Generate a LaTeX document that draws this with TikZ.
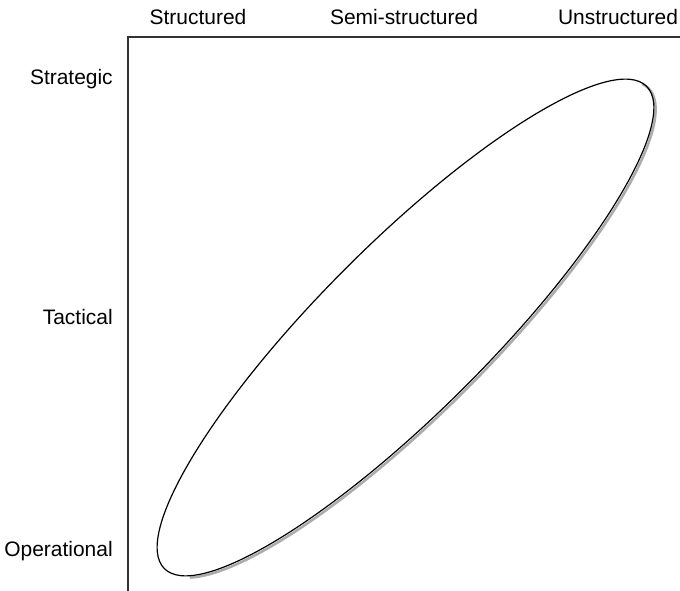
\documentclass[tikz,border=0pt]{standalone}
\usepackage{fontspec}
\setmainfont{Liberation Sans}
\usepackage{tikz}

\begin{document}
\begin{tikzpicture}[x=0.025cm, y=0.025cm,
    lbl/.style={font=\fontsize{14.9}{17}\selectfont, inner sep=0pt},
    shade line/.style={gray!65, line width=1.8pt}]
        \useasboundingbox (0,0) rectangle (680,591);

        % Corner of the grid
        \coordinate (corner) at (128,554);
        \coordinate (xend) at (680,554);
        \coordinate (yend) at (128,0);

        % Draw the axes
        \draw[line width=0.8pt, black!80] (xend) -- (corner) -- (yend);

        % Labels for the columns
        \node[lbl, anchor=base] (structured) at (198,566) {Structured};
        \node[lbl, anchor=base] (semistructured) at (404,566) {Semi-structured};
        \node[lbl, anchor=base] (unstructured) at (618,566) {Unstructured};

        % Labels for the rows
        \node[lbl, anchor=base east] (strategic) at (113,506) {Strategic};
        \node[lbl, anchor=base east] (tactical) at (113,266) {Tactical};
        \node[lbl, anchor=base east] (operational) at (113,34) {Operational};

        % Shadow of the ellipse
        \begin{scope}[shift={(407.3,261.7)}, rotate=45]
            \draw[shade line] (195:341 and 84) arc[start angle=195, end angle=365, x radius=341, y radius=84];
        \end{scope}

        % Draw the ellipse
        \begin{scope}[shift={(405.5,263.5)}, rotate=45]
            \draw[line width=0.85pt] (0,0) ellipse [x radius=341, y radius=84];
        \end{scope}
    \end{tikzpicture}
\end{document}
